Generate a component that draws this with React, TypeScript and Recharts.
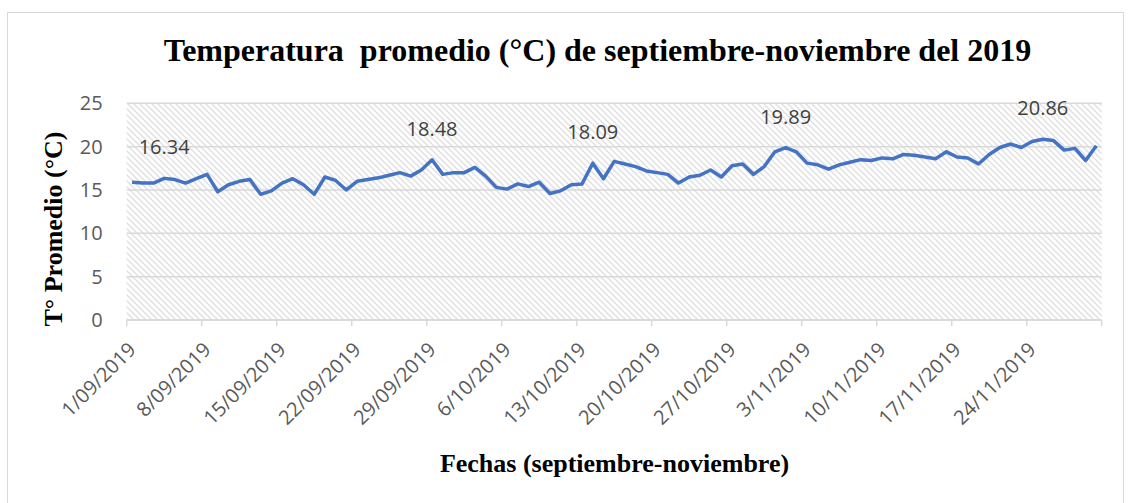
import { LineChart, Line, XAxis, YAxis, CartesianGrid, LabelList } from "recharts";

// temperaturas promedio diarias (°C)
const septiembre = [
  15.9, 15.8, 15.8, 16.34, 16.2, 15.8, 16.3, 16.8, 14.8, 15.6,
  16.0, 16.2, 14.5, 14.9, 15.8, 16.3, 15.6, 14.5, 16.5, 16.1,
  15.0, 16.0, 16.2, 16.4, 16.7, 17.0, 16.6, 17.3, 18.48, 16.8,
];
const octubre = [
  17.0, 17.0, 17.6, 16.6, 15.3, 15.1, 15.7, 15.4, 15.9, 14.6,
  14.9, 15.6, 15.7, 18.09, 16.3, 18.3, 18.0, 17.7, 17.2, 17.0,
  16.8, 15.8, 16.5, 16.7, 17.3, 16.5, 17.8, 18.0, 16.8, 17.7,
  19.4,
];
const noviembre = [
  19.89, 19.4, 18.1, 17.9, 17.4, 17.9, 18.2, 18.5, 18.4, 18.7,
  18.6, 19.1, 19.0, 18.8, 18.6, 19.4, 18.8, 18.7, 18.0, 19.1,
  19.9, 20.3, 19.9, 20.6, 20.86, 20.7, 19.6, 19.8, 18.4, 20.1,
];

const meses = [
  { mes: "09", valores: septiembre },
  { mes: "10", valores: octubre },
  { mes: "11", valores: noviembre },
];

// etiquetas de datos resaltadas (índice del día)
const etiquetas = [
  { dia: 3, texto: "16.34" },
  { dia: 28, texto: "18.48" },
  { dia: 43, texto: "18.09" },
  { dia: 61, texto: "19.89" },
  { dia: 85, texto: "20.86" },
];

const yTicks = [0, 5, 10, 15, 20, 25];

const data: { day: number; fecha: string; temp: number; tag?: string }[] = [];
meses.forEach(({ mes, valores }) => {
  valores.forEach((v, i) => {
    data.push({ day: data.length, fecha: `${i + 1}/${mes}/2019`, temp: v });
  });
});
etiquetas.forEach((e) => {
  data[e.dia].tag = e.texto;
});

const n = data.length;
// marcas entre categorías, cada 7 días
const markTicks = Array.from({ length: Math.floor(n / 7) + 1 }, (_, k) => k * 7 - 0.5);

const gray = "#595959";
const gridColor = "#d9d9d9";
const plotWidth = 1134 - 66.7 - 60 - 32.3;
const halfDay = plotWidth / n / 2;

const DateTick = (props: any) => {
  const { x, y, payload } = props;
  const idx = Math.round(payload.value + 0.5);
  const label = data[idx] ? data[idx].fecha : "";
  return (
    <g transform={`translate(${x + halfDay + 5},${y + 23})`}>
      <text
        x={0}
        y={0}
        textAnchor="end"
        transform="rotate(-45)"
        fill={gray}
        fontSize={20}
        fontFamily="Open Sans"
      >
        {label}
      </text>
    </g>
  );
};

export default function App() {
  return (
    <div style={{ position: "absolute", left: 0, top: 0, width: 1134, height: 503, background: "#fff", overflow: "hidden" }}>
      <div
        style={{
          position: "absolute",
          left: 7,
          top: 12,
          width: 1117,
          height: 500,
          border: "1px solid #d9d9d9",
          boxSizing: "border-box",
        }}
      />
      <div style={{ position: "absolute", left: 0, top: 0 }}>
        <LineChart width={1134} height={503} data={data} margin={{ top: 103.3, right: 32.3, bottom: 83, left: 66.7 }}>
          <defs>
            <pattern id="hatch" patternUnits="userSpaceOnUse" width="6" height="6">
              <rect width="6" height="6" fill="#ffffff" />
              <path d="M0,0 L6,6 M-1,5 L1,7 M5,-1 L7,1" stroke="#e0e0e0" strokeWidth={1.4} />
            </pattern>
          </defs>
          <CartesianGrid vertical={false} stroke={gridColor} strokeWidth={1.5} fill="url(#hatch)" fillOpacity={1} />
          <XAxis
            type="number"
            dataKey="day"
            domain={[-0.5, n - 0.5]}
            ticks={markTicks}
            interval={0}
            tickSize={6}
            height={100}
            axisLine={{ stroke: gridColor, strokeWidth: 1.5 }}
            tickLine={{ stroke: gridColor, strokeWidth: 1.5 }}
            tick={<DateTick />}
            allowDataOverflow
          />
          <YAxis
            domain={[0, 25]}
            ticks={yTicks}
            width={60}
            axisLine={false}
            tickLine={false}
            tickMargin={18}
            tick={{ fill: gray, fontSize: 20, fontFamily: "Open Sans" }}
          />
          <Line
            type="linear"
            dataKey="temp"
            stroke="#4472C4"
            strokeWidth={3.5}
            strokeLinejoin="round"
            dot={false}
            isAnimationActive={false}
          >
            <LabelList dataKey="tag" position="top" offset={24} fill="#404040" fontSize={20} fontFamily="Open Sans" />
          </Line>
        </LineChart>
      </div>
      <svg width={1134} height={503} style={{ position: "absolute", left: 0, top: 0, pointerEvents: "none" }}>
        <text
          x={597.5}
          y={61}
          textAnchor="middle"
          fontFamily="Liberation Serif"
          fontWeight="bold"
          fontSize={32}
          fill="#000"
          style={{ whiteSpace: "pre" }}
        >
          Temperatura  promedio (°C) de septiembre-noviembre del 2019
        </text>
        <text
          x={62}
          y={229}
          transform="rotate(-90, 62, 229)"
          textAnchor="middle"
          fontFamily="Liberation Serif"
          fontWeight="bold"
          fontSize={26}
          fill="#000"
        >
          T° Promedio (°C)
        </text>
        <text
          x={614.5}
          y={472}
          textAnchor="middle"
          fontFamily="Liberation Serif"
          fontWeight="bold"
          fontSize={26}
          fill="#000"
        >
          Fechas (septiembre-noviembre)
        </text>
      </svg>
    </div>
  );
}
